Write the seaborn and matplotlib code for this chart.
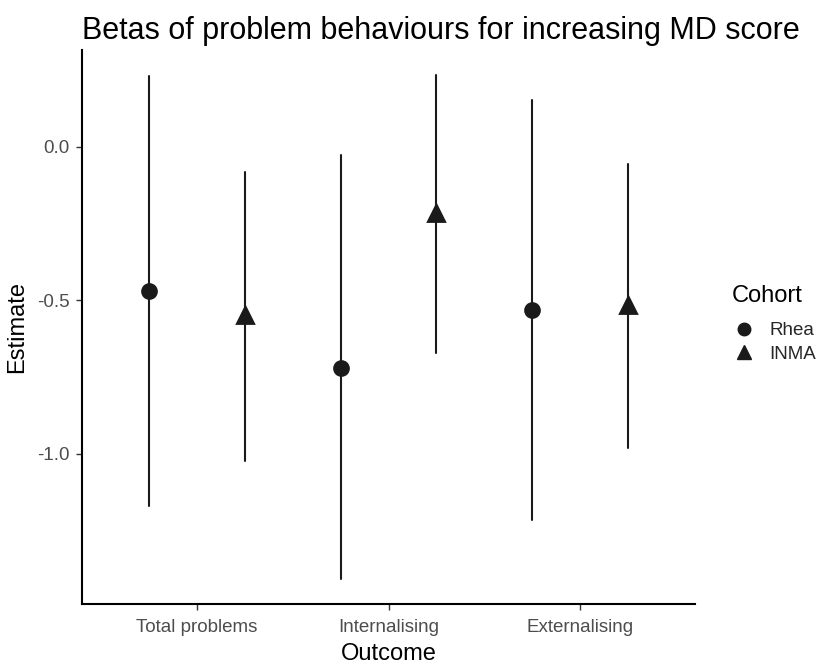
import numpy as np
import pandas as pd
import matplotlib
matplotlib.use("Agg")
import matplotlib.pyplot as plt
import seaborn as sns
from matplotlib.lines import Line2D

outcomes = ["Total problems", "Internalising", "Externalising"]
cohorts = ["Rhea", "INMA"]
estimate_rhea = [-0.47, -0.72, -0.53]
lower_rhea = [-1.17, -1.41, -1.215]
upper_rhea = [0.23, -0.025, 0.153]
estimate_inma = [-0.549, -0.215, -0.516]
lower_inma = [-1.023, -0.673, -0.98]
upper_inma = [-0.082, 0.233, -0.056]
y_ticks = [-1.0, -0.5, 0.0]

sns.set_theme(style="white")
plt.rcParams["font.family"] = ["Liberation Sans", "DejaVu Sans"]
plt.rcParams["axes.unicode_minus"] = False

rows = []
for cohort, est, lo, hi in [("Rhea", estimate_rhea, lower_rhea, upper_rhea),
                            ("INMA", estimate_inma, lower_inma, upper_inma)]:
    for o, e, l, h in zip(outcomes, est, lo, hi):
        for v in (l, e, h):
            rows.append({"Outcome": o, "Cohort": cohort, "Estimate": v})
df = pd.DataFrame(rows)

fig = plt.figure(figsize=(8.21, 6.64), dpi=100)
ax = fig.add_axes([82 / 821, (664 - 604) / 664, (695 - 82) / 821, (604 - 50) / 664])

sns.pointplot(data=df, x="Outcome", y="Estimate", hue="Cohort",
              order=outcomes, hue_order=cohorts,
              estimator="median", errorbar=("pi", 100),
              dodge=0.5, markers=["o", "^"], linestyle="none",
              palette=["#1a1a1a", "#1a1a1a"], markersize=10,
              err_kws={"linewidth": 1.5}, capsize=0, ax=ax, legend=False)

for ln in ax.lines:
    if ln.get_marker() == "^":
        ln.set_markersize(12)

ax.set_xlim(-0.6, 2.6)
ax.set_ylim(-1.490, 0.316)
ax.set_yticks(y_ticks)
ax.set_yticklabels([f"{t:.1f}" for t in y_ticks])

for side in ["top", "right"]:
    ax.spines[side].set_visible(False)
for side in ["left", "bottom"]:
    ax.spines[side].set_color("black")
    ax.spines[side].set_linewidth(1.5)

ax.tick_params(axis="both", which="both", length=4, width=1.0, color="#333333",
               labelsize=13.5, labelcolor="#4d4d4d", left=True, bottom=True, pad=5)
ax.tick_params(axis="x", pad=7)
ax.set_xlabel("Outcome", fontsize=17, color="black", labelpad=5)
ax.set_ylabel("Estimate", fontsize=17, color="black", labelpad=6)
ax.set_title("Betas of problem behaviours for increasing MD score",
             loc="left", fontsize=22, color="black", pad=8)

fig.text(732 / 821, 1 - 296 / 664, "Cohort", fontsize=17, color="black",
         ha="left", va="center")
handles = [Line2D([], [], linestyle="none", marker="o", markersize=9, color="#1a1a1a"),
           Line2D([], [], linestyle="none", marker="^", markersize=10, color="#1a1a1a")]
leg = fig.legend(handles, cohorts, loc="upper left",
                 bbox_to_anchor=(731 / 821, 1 - 322 / 664),
                 frameon=False, fontsize=13.5,
                 borderpad=0, borderaxespad=0, handlelength=1.39,
                 handletextpad=0.64, labelspacing=0.35)

fig.savefig("out.png", dpi=100)
